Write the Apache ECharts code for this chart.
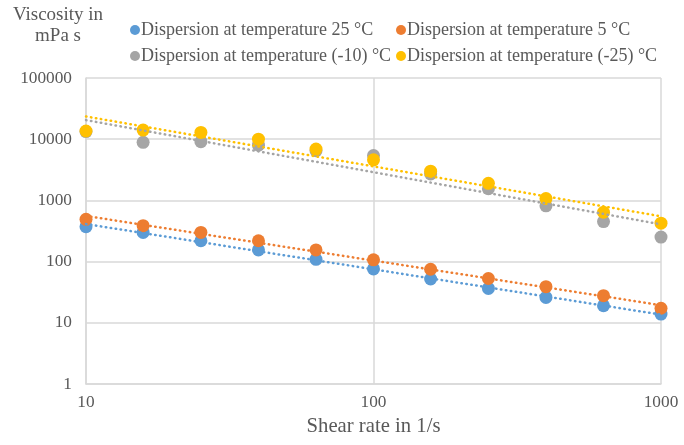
<!DOCTYPE html>
<html>
<head>
<meta charset="utf-8">
<script src="https://cdn.jsdelivr.net/npm/echarts@6/dist/echarts.min.js"></script>
<style>
  html, body { margin: 0; padding: 0; background: #fff; }
  #chart { width: 684px; height: 445px; }
</style>
</head>
<body>
<div id="chart"></div>
<script>
// Shear rates (1/s), five points per decade
const shearRates = [10, 15.8, 25.1, 39.8, 63.1, 100, 158, 251, 398, 631, 1000];

// Viscosity (mPa s) per dispersion temperature
const visc25 = [372, 300, 219, 155, 109, 76, 52, 36.5, 26, 19, 13.9];
const visc5 = [490, 386, 300, 219, 155, 107, 75, 53, 39, 27.7, 17.3];
const viscMinus10 = [13300, 8900, 9100, 8000, 6500, 5400, 2700, 1550, 815, 450, 252];
const viscMinus25 = [13600, 14100, 12900, 10000, 6900, 4600, 3000, 1900, 1070, 640, 425];

const seriesNames = [
  'Dispersion at temperature 25 °C',
  'Dispersion at temperature 5 °C',
  'Dispersion at temperature (-10) °C',
  'Dispersion at temperature (-25) °C'
];
const seriesColors = ['#5B9BD5', '#ED7D31', '#A5A5A5', '#FFC000'];
const seriesValues = [visc25, visc5, viscMinus10, viscMinus25];

const FONT = '"Liberation Serif", "Times New Roman", serif';
const TEXT = '#595959';

// Power-law trendline: least squares fit in log-log space
function powerFit(xs, ys) {
  const lx = xs.map(Math.log10), ly = ys.map(Math.log10);
  const n = lx.length;
  const mx = lx.reduce((a, b) => a + b, 0) / n;
  const my = ly.reduce((a, b) => a + b, 0) / n;
  let sxy = 0, sxx = 0;
  for (let i = 0; i < n; i++) { sxy += (lx[i] - mx) * (ly[i] - my); sxx += (lx[i] - mx) ** 2; }
  const b = sxy / sxx, a = my - b * mx;
  const x0 = xs[0], x1 = xs[n - 1];
  return [[x0, Math.pow(10, a + b * Math.log10(x0))], [x1, Math.pow(10, a + b * Math.log10(x1))]];
}

const series = [];
seriesValues.forEach((vals, i) => {
  series.push({
    name: seriesNames[i] + ' trend',
    type: 'line',
    data: powerFit(shearRates, vals),
    showSymbol: false,
    symbol: 'none',
    silent: true,
    z: 3,
    lineStyle: { color: seriesColors[i], width: 2.5, type: [0.5, 4.5], cap: 'round' }
  });
});
seriesValues.forEach((vals, i) => {
  series.push({
    name: seriesNames[i],
    type: 'scatter',
    data: shearRates.map((x, k) => [x, vals[k]]),
    symbol: 'circle',
    symbolSize: 13,
    z: 2,
    itemStyle: { color: seriesColors[i], opacity: 1 }
  });
});

const legendPos = [
  { left: 130, top: 21 },
  { left: 396, top: 21 },
  { left: 130, top: 47 },
  { left: 396, top: 47 }
];

const chart = echarts.init(document.getElementById('chart'), null, { renderer: 'canvas' });
chart.setOption({
  backgroundColor: '#ffffff',
  animation: false,
  textStyle: { fontFamily: FONT },
  grid: { left: 86, right: 23, top: 78, bottom: 61 },
  legend: seriesNames.map((name, i) => ({
    data: [{ name: name, icon: 'circle' }],
    left: legendPos[i].left,
    top: legendPos[i].top,
    itemWidth: 10,
    itemHeight: 10,
    itemGap: 0,
    padding: 0,
    textStyle: { fontFamily: FONT, fontSize: 18, color: TEXT, padding: [0, 0, 0, -4] }
  })),
  graphic: [{
    type: 'text',
    x: 58, y: 26,
    style: {
      text: 'Viscosity in\nmPa s',
      fontFamily: FONT, fontSize: 19, fill: TEXT,
      align: 'center', verticalAlign: 'middle', lineHeight: 21
    }
  }],
  xAxis: {
    type: 'log',
    logBase: 10,
    min: 10,
    max: 1000,
    interval: 1,
    name: 'Shear rate in 1/s',
    nameLocation: 'middle',
    nameGap: 31,
    nameTextStyle: { fontFamily: FONT, fontSize: 20.7, color: TEXT },
    axisLine: { show: true, lineStyle: { color: '#D9D9D9', width: 1.5 } },
    axisTick: { show: false },
    minorTick: { show: false },
    axisLabel: {
      fontFamily: FONT, fontSize: 17.3, color: TEXT, margin: 10,
      formatter: v => String(Math.round(v))
    },
    splitLine: { show: true, lineStyle: { color: '#D9D9D9', width: 1.5 } }
  },
  yAxis: {
    type: 'log',
    logBase: 10,
    min: 1,
    max: 100000,
    interval: 1,
    axisLine: { show: true, lineStyle: { color: '#D9D9D9', width: 1.5 } },
    axisTick: { show: false },
    axisLabel: {
      fontFamily: FONT, fontSize: 17.3, color: TEXT, margin: 14,
      formatter: v => String(Math.round(v))
    },
    splitLine: { show: true, lineStyle: { color: '#D9D9D9', width: 1.5 } }
  },
  series: series
});
</script>
</body>
</html>
